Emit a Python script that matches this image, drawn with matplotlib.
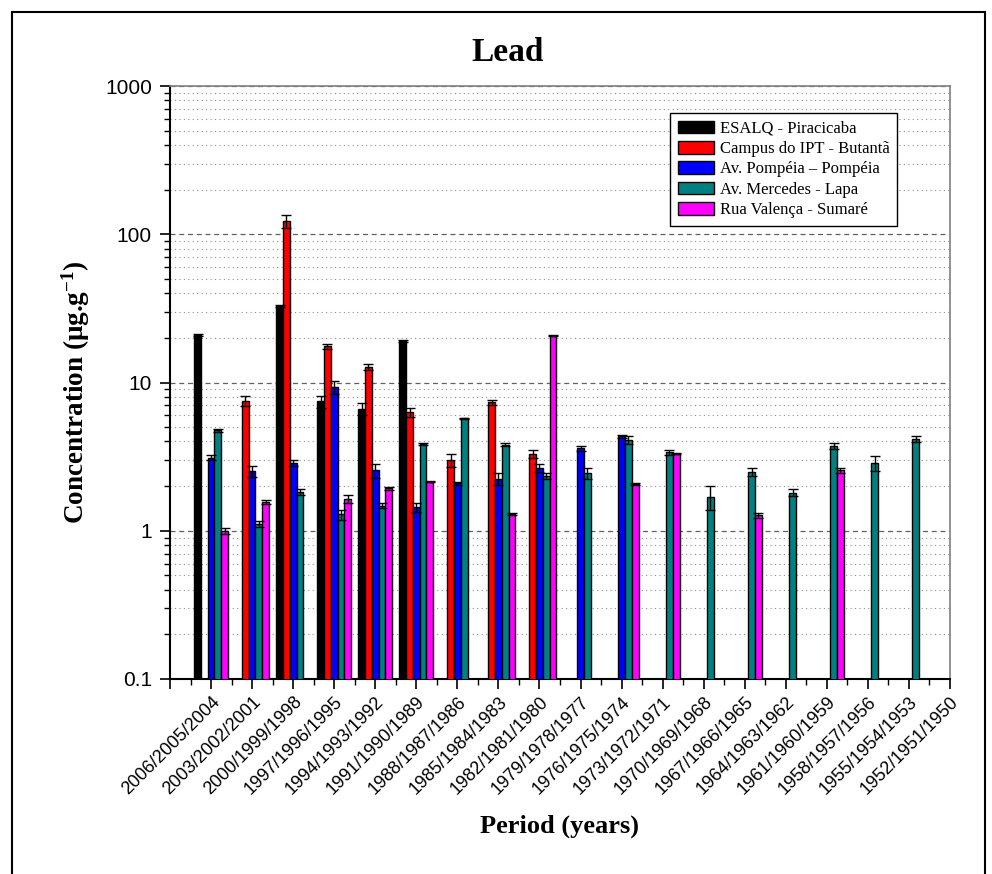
import numpy as np
import matplotlib
matplotlib.use("Agg")
import matplotlib.pyplot as plt
from matplotlib.patches import Rectangle
from matplotlib.ticker import LogLocator, NullFormatter, FixedLocator

plt.rcParams['mathtext.fontset'] = 'custom'
plt.rcParams['mathtext.rm'] = 'Liberation Serif:bold'
plt.rcParams['mathtext.bf'] = 'Liberation Serif:bold'
plt.rcParams['mathtext.it'] = 'Liberation Serif:bold'

nan = np.nan
periods = ["2006/2005/2004", "2003/2002/2001", "2000/1999/1998", "1997/1996/1995",
           "1994/1993/1992", "1991/1990/1989", "1988/1987/1986", "1985/1984/1983",
           "1982/1981/1980", "1979/1978/1977", "1976/1975/1974", "1973/1972/1971",
           "1970/1969/1968", "1967/1966/1965", "1964/1963/1962", "1961/1960/1959",
           "1958/1957/1956", "1955/1954/1953", "1952/1951/1950"]

series_names = ["ESALQ - Piracicaba", "Campus do IPT - Butantã", "Av. Pompéia – Pompéia",
                "Av. Mercedes - Lapa", "Rua Valença - Sumaré"]
series_colors = ["#000000", "#FF0000", "#0000FF", "#008080", "#FF00FF"]

esalq = [21.0, nan, 33.0, 7.45, 6.65, 19.2, nan, nan, nan, nan, nan, nan, nan, nan, nan, nan, nan, nan, nan]
esalq_err = [0.3, 0, 0.5, 0.7, 0.6, 0.3, 0, 0, 0, 0, 0, 0, 0, 0, 0, 0, 0, 0, 0]
ipt = [nan, 7.5, 122.0, 17.5, 12.8, 6.28, 3.0, 7.37, 3.30, nan, nan, nan, nan, nan, nan, nan, nan, nan, nan]
ipt_err = [0, 0.6, 12.0, 0.8, 0.6, 0.4, 0.3, 0.3, 0.2, 0, 0, 0, 0, 0, 0, 0, 0, 0, 0]
pompeia = [3.1, 2.52, 2.87, 9.3, 2.56, 1.44, 2.09, 2.24, 2.65, 3.60, 4.33, nan, nan, nan, nan, nan, nan, nan, nan]
pompeia_err = [0.12, 0.2, 0.12, 1.0, 0.28, 0.1, 0.05, 0.2, 0.15, 0.15, 0.1, 0, 0, 0, 0, 0, 0, 0, 0]
lapa = [4.75, 1.11, 1.83, 1.29, 1.48, 3.85, 5.75, 3.81, 2.35, 2.44, 4.12, 3.38, 1.69, 2.48, 1.81, 3.73, 2.87, 4.18, nan]
lapa_err = [0.1, 0.05, 0.08, 0.1, 0.05, 0.05, 0.05, 0.1, 0.1, 0.2, 0.25, 0.15, 0.3, 0.15, 0.1, 0.15, 0.34, 0.2, 0]
sumare = [1.0, 1.57, nan, 1.63, 1.93, 2.14, nan, 1.30, 20.7, nan, 2.06, 3.31, nan, 1.27, nan, 2.56, nan, nan, nan]
sumare_err = [0.05, 0.05, 0, 0.1, 0.05, 0.02, 0, 0.02, 0.2, 0, 0.03, 0.03, 0, 0.05, 0, 0.1, 0, 0, 0]

values = [esalq, ipt, pompeia, lapa, sumare]
errors = [esalq_err, ipt_err, pompeia_err, lapa_err, sumare_err]

fig = plt.figure(figsize=(9.92, 8.74), dpi=100)
ax = fig.add_axes([170/992, 1-679/874, 780/992, (679-86)/874])

x = np.arange(1, len(periods) + 1)
width = 0.165
offsets = [-2, -1, 0, 1, 2]
for vals, errs, name, col, off in zip(values, errors, series_names, series_colors, offsets):
    v = np.array(vals, dtype=float)
    e = np.array(errs, dtype=float)
    xs = x + off * width
    ax.bar(xs, v, width=width, color=col, edgecolor="black", linewidth=1.0, label=name, zorder=3)
    m = ~np.isnan(v) & (e > 0)
    ax.errorbar(xs[m], v[m], yerr=e[m], fmt="none", ecolor="black", elinewidth=1.0,
                capsize=3.4, capthick=1.0, zorder=4)

ax.set_yscale("log")
ax.set_ylim(0.1, 1000)
ax.set_xlim(0, len(periods))

ax.yaxis.set_major_locator(FixedLocator([0.1, 1, 10, 100, 1000]))
ax.yaxis.set_minor_locator(LogLocator(base=10, subs=np.arange(2, 10)))
ax.yaxis.set_minor_formatter(NullFormatter())
ax.set_yticklabels(["0.1", "1", "10", "100", "1000"], fontfamily="Liberation Sans", fontsize=15)

ax.set_xticks(np.arange(0, len(periods) + 1))
ax.set_xticklabels([""] + periods, rotation=45, ha="right", va="top", rotation_mode="anchor",
                   fontfamily="Liberation Sans", fontsize=13)
ax.set_xticks(np.arange(0.5, len(periods), 1.0), minor=True)

ax.tick_params(axis="both", which="major", direction="out", length=7, width=1.2)
ax.tick_params(axis="both", which="minor", direction="out", length=4, width=1.0)
ax.tick_params(axis="y", which="both", right=False)
ax.tick_params(axis="y", which="major", pad=6)

ax.grid(True, which="major", axis="y", color="#606060", linestyle=(0, (4, 3)), linewidth=0.9, zorder=0)
ax.grid(True, which="minor", axis="y", color="#909090", linestyle=(0, (1, 3)), linewidth=0.8, zorder=0)

for s in ["left", "bottom"]:
    ax.spines[s].set_linewidth(1.5)
for s in ["top", "right"]:
    ax.spines[s].set_color("#808080")
    ax.spines[s].set_linewidth(1.2)

fig.text(508/992, 1-61/874, "Lead", ha="center", va="baseline",
         fontfamily="Liberation Serif", fontweight="bold", fontsize=24)
ax.set_xlabel("Period (years)", fontfamily="Liberation Serif", fontweight="bold", fontsize=19, labelpad=12)
ax.set_ylabel(r"Concentration ($\mu$g.g$^{-1}$)", fontfamily="Liberation Serif",
              fontweight="bold", fontsize=19.5)
ax.yaxis.set_label_coords(-0.1, 0.484)

leg = ax.legend(loc="upper left", bbox_to_anchor=((670-170)/780, 1-(113-86)/593),
                prop={"family": "Liberation Serif", "size": 12}, frameon=True, fancybox=False,
                edgecolor="black", framealpha=1, borderpad=0.45, labelspacing=0.25,
                handlelength=2.2, handleheight=0.8, handletextpad=0.35, borderaxespad=0)
leg.get_frame().set_linewidth(1.0)

fig.patches.append(Rectangle((12/992, -0.01), (985-12)/992, 1.01-12/874, transform=fig.transFigure,
                             fill=False, edgecolor="black", linewidth=1.5))

fig.savefig("out.png", dpi=100)
